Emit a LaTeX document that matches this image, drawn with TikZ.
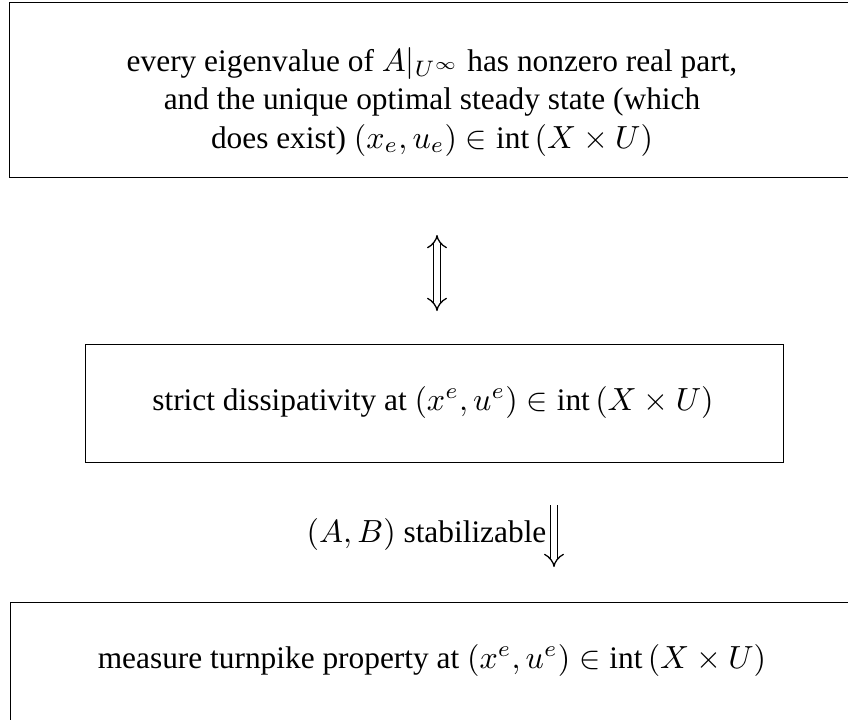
\documentclass[tikz,border=0pt]{standalone}
\usepackage{amsmath}
\usepackage{fontspec}
\setmainfont[Scale=0.98]{Liberation Serif}
\usetikzlibrary{arrows.meta}
\begin{document}
\begin{tikzpicture}[x=0.3125pt,y=-0.3125pt,
  boxnode/.style={draw,line width=0.45pt,inner sep=0pt,anchor=north west},
  lbl/.style={inner sep=0pt,font=\fontsize{10}{12}\selectfont,align=center},
  dblarrow/.style={double,double distance=1.8pt,line width=0.4pt},
  imptip/.style={Implies[length=3.8pt,width=6.6pt]}]
\clip (0,0) rectangle (848,719);
% boxes
\node[boxnode,minimum width=846*0.3125pt,minimum height=175*0.3125pt] (top) at (9,2) {};
\node[boxnode,minimum width=698*0.3125pt,minimum height=118*0.3125pt] (mid) at (85,344) {};
\node[boxnode,minimum width=846*0.3125pt,minimum height=140*0.3125pt] (bot) at (10,602) {};
% texts
\node[lbl,anchor=base] (toptext) at (432,148) {every eigenvalue of $A|_{U^\infty}$ has nonzero real part,\\
and the unique optimal steady state (which\\
does exist) $(x_e,u_e)\in\operatorname{int}\,(X\times U)$};
\node[lbl,anchor=base] (midtext) at (433,410) {strict dissipativity at $(x^e,u^e)\in\operatorname{int}\,(X\times U)$};
\node[lbl,anchor=base] (bottext) at (432,668) {measure turnpike property at $(x^e,u^e)\in\operatorname{int}\,(X\times U)$};
% arrows
\coordinate (a1s) at (437,235);
\coordinate (a1e) at (437,311);
\draw[dblarrow,{Implies[length=3.8pt,width=6.6pt]}-{Implies[length=3.8pt,width=6.6pt]}] (a1s) -- (a1e);
\coordinate (a2s) at (554,505);
\coordinate (a2e) at (554,567);
\draw[dblarrow,-{Implies[length=3.8pt,width=6.6pt]}] (a2s) -- (a2e);
\node[lbl,anchor=base east] (cond) at (547,542) {$(A,B)$ stabilizable};
\end{tikzpicture}
\end{document}
